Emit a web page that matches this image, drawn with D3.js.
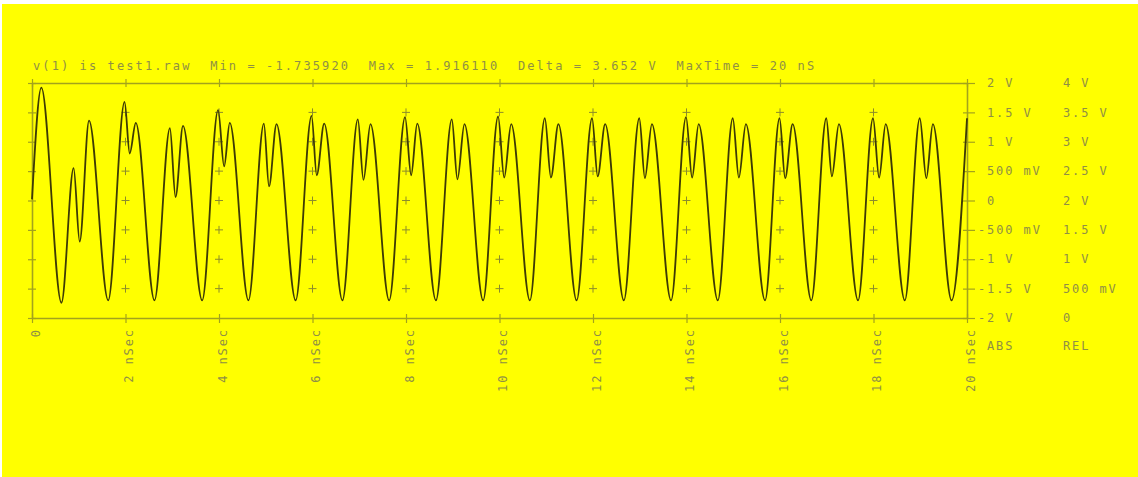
<!DOCTYPE html>
<html><head><meta charset="utf-8">
<script src="https://cdn.jsdelivr.net/npm/d3@7"></script>
<style>
html,body{margin:0;padding:0;background:#fff;}
svg{display:block;}
text{font-family:"DejaVu Sans Mono","Liberation Mono",monospace;}
</style></head>
<body>
<svg id="chart" width="1138" height="477"></svg>
<script>
// ---- data ----
const titleText = "v(1) is test1.raw  Min = -1.735920  Max = 1.916110  Delta = 3.652 V  MaxTime = 20 nS";

// time (ns) of waveform key points: per period min, spike, dip, main peak
const timeNs = [
  0.00, 0.20,
  0.63, 0.89, 1.02, 1.22,
  1.63, 1.98, 2.09, 2.22,
  2.62, 2.95, 3.07, 3.23,
  3.64, 3.98, 4.11, 4.23,
  4.63, 4.96, 5.07, 5.23,
  5.64, 5.98, 6.09, 6.25,
  6.64, 6.97, 7.09, 7.24,
  7.64, 7.98, 8.11, 8.24,
  8.64, 8.98, 9.10, 9.25,
  9.65, 9.97, 10.10, 10.25,
  10.65, 10.97, 11.10, 11.26,
  11.65, 11.98, 12.10, 12.26,
  12.66, 12.99, 13.11, 13.26,
  13.67, 13.99, 14.12, 14.26,
  14.67, 14.99, 15.12, 15.27,
  15.68, 15.99, 16.11, 16.27,
  16.67, 16.99, 17.11, 17.26,
  17.67, 17.99, 18.12, 18.26,
  18.67, 18.99, 19.13, 19.27,
  19.67, 20.00
];
const volts = [
  0.02, 1.92,
  -1.74, 0.55, -0.70, 1.36,
  -1.70, 1.68, 0.80, 1.32,
  -1.70, 1.23, 0.06, 1.27,
  -1.70, 1.54, 0.58, 1.32,
  -1.70, 1.31, 0.24, 1.30,
  -1.70, 1.44, 0.43, 1.31,
  -1.70, 1.38, 0.35, 1.30,
  -1.70, 1.42, 0.43, 1.31,
  -1.70, 1.38, 0.36, 1.30,
  -1.70, 1.43, 0.39, 1.30,
  -1.70, 1.40, 0.39, 1.30,
  -1.70, 1.40, 0.41, 1.30,
  -1.70, 1.40, 0.38, 1.30,
  -1.70, 1.42, 0.39, 1.30,
  -1.70, 1.40, 0.39, 1.30,
  -1.70, 1.40, 0.38, 1.30,
  -1.70, 1.40, 0.41, 1.30,
  -1.70, 1.40, 0.39, 1.30,
  -1.70, 1.40, 0.38, 1.30,
  -1.70, 1.40
];

const xTicks = [0, 2, 4, 6, 8, 10, 12, 14, 16, 18, 20];
const xTickLabels = ["0", "2 nSec", "4 nSec", "6 nSec", "8 nSec", "10 nSec", "12 nSec", "14 nSec", "16 nSec", "18 nSec", "20 nSec"];
const yTicks = [2, 1.5, 1, 0.5, 0, -0.5, -1, -1.5, -2];
const absLabels = ["2 V", "1.5 V", "1 V", "500 mV", "0", "-500 mV", "-1 V", "-1.5 V", "-2 V"];
const relLabels = ["4 V", "3.5 V", "3 V", "2.5 V", "2 V", "1.5 V", "1 V", "500 mV", "0"];
const columnHeads = ["ABS", "REL"];

// ---- drawing ----
const svg = d3.select("#chart");
const frameColor = "#a3a31c";
const textColor = "#8f8f45";
const waveColor = "#3d3a05";

svg.append("rect").attr("x", 2).attr("y", 4).attr("width", 1136).attr("height", 473).attr("fill", "#ffff00");

const L = 32, R = 967, T = 83, B = 318;
const x = d3.scaleLinear().domain([0, 20]).range([L, R]);
const y = d3.scaleLinear().domain([-2, 2]).range([B, T]);

// title
svg.append("text").attr("x", 33).attr("y", 66).attr("dy", "0.35em")
  .style("white-space", "pre").style("letter-spacing", "2.1px")
  .attr("font-size", 12).attr("fill", textColor).text(titleText);

// interior grid crosses
const gx = xTicks.slice(1, -1), gy = yTicks.slice(1, -1);
const crosses = svg.append("g").attr("stroke", "#8c8c2a").attr("stroke-width", 1);
gx.forEach(tx => gy.forEach(vy => {
  crosses.append("line").attr("x1", x(tx) - 4).attr("x2", x(tx) + 4).attr("y1", y(vy)).attr("y2", y(vy));
  crosses.append("line").attr("x1", x(tx)).attr("x2", x(tx)).attr("y1", y(vy) - 4).attr("y2", y(vy) + 4);
}));

function styleAxis(g) {
  g.select(".domain").attr("stroke", frameColor).attr("stroke-width", 1.6);
  g.selectAll(".tick line").attr("stroke", frameColor).attr("stroke-width", 1.2);
}

// top axis
const gTop = svg.append("g").attr("transform", `translate(0,${T})`)
  .call(d3.axisTop(x).tickValues(xTicks).tickSizeInner(4).tickSizeOuter(0).tickFormat(""));
gTop.selectAll(".tick line").attr("y1", 4).attr("y2", -4);
styleAxis(gTop);

// bottom axis
const gBot = svg.append("g").attr("transform", `translate(0,${B})`)
  .call(d3.axisBottom(x).tickValues(xTicks).tickSizeInner(5).tickSizeOuter(0)
    .tickFormat((d, i) => xTickLabels[i]));
gBot.selectAll(".tick line").attr("y1", -4).attr("y2", 5);
gBot.selectAll(".tick text")
  .attr("font-family", "DejaVu Sans Mono, monospace").attr("font-size", 12)
  .attr("fill", textColor).style("letter-spacing", "1.9px")
  .attr("text-anchor", "end").attr("y", 0).attr("dy", "0.35em")
  .attr("transform", "translate(3,10) rotate(-90)");
styleAxis(gBot);

// left axis
const gLeft = svg.append("g").attr("transform", `translate(${L},0)`)
  .call(d3.axisLeft(y).tickValues(yTicks).tickSizeInner(4).tickSizeOuter(0).tickFormat(""));
gLeft.selectAll(".tick line").attr("x1", 4).attr("x2", -4);
styleAxis(gLeft);

// right axis
const gRight = svg.append("g").attr("transform", `translate(${R},0)`)
  .call(d3.axisRight(y).tickValues(yTicks).tickSizeInner(7).tickSizeOuter(0).tickFormat(""));
gRight.selectAll(".tick line").attr("x1", -4).attr("x2", 8);
styleAxis(gRight);

// right labels
const labG = svg.append("g").attr("font-size", 12).attr("fill", textColor).style("letter-spacing", "1.9px");
yTicks.forEach((v, i) => {
  const a = absLabels[i];
  labG.append("text").attr("x", 987 - (a.startsWith("-") ? 9 : 0)).attr("y", y(v)).attr("dy", "0.35em").text(a);
  labG.append("text").attr("x", 1063).attr("y", y(v)).attr("dy", "0.35em").text(relLabels[i]);
});
labG.append("text").attr("x", 987).attr("y", 346).attr("dy", "0.35em").text(columnHeads[0]);
labG.append("text").attr("x", 1063).attr("y", 346).attr("dy", "0.35em").text(columnHeads[1]);

// waveform
const pts = timeNs.map((t, i) => [t, volts[i]]);
const line = d3.line().x(d => x(d[0])).y(d => y(d[1])).curve(d3.curveMonotoneX);
svg.append("path").datum(pts).attr("d", line).attr("fill", "none")
  .attr("stroke", waveColor).attr("stroke-width", 1.8).attr("stroke-linejoin", "round");
</script>
</body></html>
